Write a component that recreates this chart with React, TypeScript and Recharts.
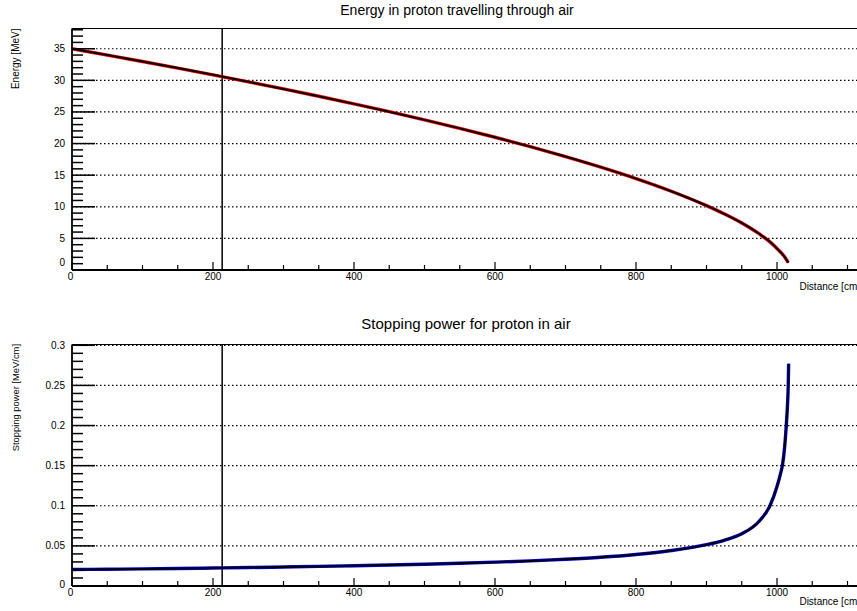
import { LineChart, Line, XAxis, YAxis, ReferenceLine } from 'recharts'

const distance = [0, 50, 100, 150, 200, 250, 300, 350, 400, 450, 500, 550, 600, 650, 700, 750, 800, 850, 900, 925, 950, 975, 990, 1000, 1010, 1016]
const energy = [35.0, 34.0, 32.98, 31.94, 30.87, 29.77, 28.64, 27.48, 26.28, 25.04, 23.75, 22.4, 21.0, 19.52, 17.95, 16.27, 14.46, 12.46, 10.18, 8.89, 7.44, 5.7, 4.45, 3.4, 2.2, 1.15]

const spDistance = [0, 50, 100, 150, 200, 250, 300, 350, 400, 450, 500, 550, 600, 650, 700, 750, 800, 850, 900, 925, 950, 975, 990, 1000, 1005, 1008, 1011, 1013, 1015, 1016, 1016.5]
const stoppingPower = [0.0205, 0.0209, 0.0213, 0.0218, 0.0224, 0.023, 0.0237, 0.0244, 0.0252, 0.0261, 0.0271, 0.0283, 0.0297, 0.0313, 0.0333, 0.0358, 0.0393, 0.0442, 0.0515, 0.057, 0.065, 0.081, 0.1, 0.124, 0.14, 0.152, 0.175, 0.198, 0.228, 0.252, 0.277]

const xTicks = [0, 50, 100, 150, 200, 250, 300, 350, 400, 450, 500, 550, 600, 650, 700, 750, 800, 850, 900, 950, 1000, 1050, 1100]
const energyTicks = [0, 1, 2, 3, 4, 5, 6, 7, 8, 9, 10, 11, 12, 13, 14, 15, 16, 17, 18, 19, 20, 21, 22, 23, 24, 25, 26, 27, 28, 29, 30, 31, 32, 33, 34, 35, 36, 37, 38]
const energyGrid = [5, 10, 15, 20, 25, 30, 35]
const spTicks = [0, 0.01, 0.02, 0.03, 0.04, 0.05, 0.06, 0.07, 0.08, 0.09, 0.1, 0.11, 0.12, 0.13, 0.14, 0.15, 0.16, 0.17, 0.18, 0.19, 0.2, 0.21, 0.22, 0.23, 0.24, 0.25, 0.26, 0.27, 0.28, 0.29, 0.3]
const spGrid = [0.05, 0.1, 0.15, 0.2, 0.25, 0.3]
const markerDistance = 213

const X_MAX = 1120
const E_MAX = 38.2
const SP_MAX = 0.301

const FONT = '"Liberation Sans", Arial, Helvetica, sans-serif'

const energyRows = distance.map((d, i) => ({ d, v: energy[i] }))
const spRows = spDistance.map((d, i) => ({ d, v: stoppingPower[i] }))

function XTick({ x, y, payload }: any) {
  const v = payload.value
  const major = v % 200 === 0
  return (
    <g>
      <line x1={x} x2={x} y1={y} y2={y - (major ? 8 : 5)} stroke="#000" strokeWidth={1.2} />
      {major && (
        <text x={v === 0 ? x - 1.5 : x} y={y + 10} textAnchor="middle" fontSize={10} fontFamily={FONT} fill="#000">
          {v}
        </text>
      )}
    </g>
  )
}

function makeYTick(isMajor: (v: number) => boolean, zeroShift: number) {
  return ({ x, y, payload }: any) => {
    const v = payload.value
    const major = isMajor(v)
    return (
      <g>
        <line x1={x} x2={x + (major ? 23 : 11)} y1={y} y2={y} stroke="#000" strokeWidth={1.5} />
        {major && (
          <text x={x - 7} y={y + (v === 0 ? zeroShift : 0)} dy="0.35em" textAnchor="end" fontSize={10} fontFamily={FONT} fill="#000">
            {String(+v.toFixed(2))}
          </text>
        )}
      </g>
    )
  }
}

const EnergyTick = makeYTick((v) => v % 5 === 0, -7.5)
const SpTick = makeYTick((v) => Math.round(v * 100) % 5 === 0, -1.5)

function Pad({ rows, yMax, yTicks, grid, tick, color }: any) {
  return (
    <LineChart width={900} height={300} data={rows} margin={{ top: 28.5, right: 38.4, bottom: 0, left: 12 }}>
      <XAxis
        dataKey="d"
        type="number"
        domain={[0, X_MAX]}
        ticks={xTicks}
        interval={0}
        height={30}
        tickSize={0}
        tickMargin={0}
        tickLine={false}
        tick={XTick}
        axisLine={{ stroke: '#000', strokeWidth: 1.8 }}
      />
      <YAxis
        type="number"
        domain={[0, yMax]}
        ticks={yTicks}
        interval={0}
        width={60}
        tickSize={0}
        tickMargin={0}
        tickLine={false}
        tick={tick}
        axisLine={{ stroke: '#000', strokeWidth: 1.8 }}
      />
      {grid.map((g: number) => (
        <ReferenceLine key={g} y={g} stroke="#000" strokeWidth={1.2} strokeDasharray="1.5 2.5" />
      ))}
      <ReferenceLine y={yMax} stroke="#000" strokeWidth={1.2} />
      <ReferenceLine x={markerDistance} stroke="#000" strokeWidth={1.5} />
      <Line dataKey="v" type="monotone" stroke={color} strokeWidth={3.4} dot={false} isAnimationActive={false} />
      <Line dataKey="v" type="monotone" stroke="#000" strokeWidth={2} dot={false} isAnimationActive={false} />
    </LineChart>
  )
}

export default function App() {
  return (
    <div style={{ position: 'absolute', left: 0, top: 0, width: 857, height: 611, overflow: 'hidden', background: '#fff' }}>
      <div style={{ position: 'absolute', left: 0, top: 0 }}>
        <Pad rows={energyRows} yMax={E_MAX} yTicks={energyTicks} grid={energyGrid} tick={EnergyTick} color="#ff0000" />
      </div>
      <div style={{ position: 'absolute', left: 0, top: 315.5 }}>
        <Pad rows={spRows} yMax={SP_MAX} yTicks={spTicks} grid={spGrid} tick={SpTick} color="#0000ff" />
      </div>
      <svg width={857} height={611} style={{ position: 'absolute', left: 0, top: 0, pointerEvents: 'none' }} fontFamily={FONT}>
        <text x={457} y={15} fontSize={14} textAnchor="middle" fill="#000">Energy in proton travelling through air</text>
        <text x={466} y={328.5} fontSize={15} textAnchor="middle" fill="#000">Stopping power for proton in air</text>
        <text x={860} y={289.5} fontSize={10} textAnchor="end" fill="#000">Distance [cm]</text>
        <text x={860} y={605} fontSize={10} textAnchor="end" fill="#000">Distance [cm]</text>
        <text transform="translate(18.6,28.5) rotate(-90)" fontSize={10} textAnchor="end" fill="#000">Energy [MeV]</text>
        <text transform="translate(18.6,344) rotate(-90)" fontSize={9.4} textAnchor="end" fill="#000">Stopping power [MeV/cm]</text>
      </svg>
    </div>
  )
}
